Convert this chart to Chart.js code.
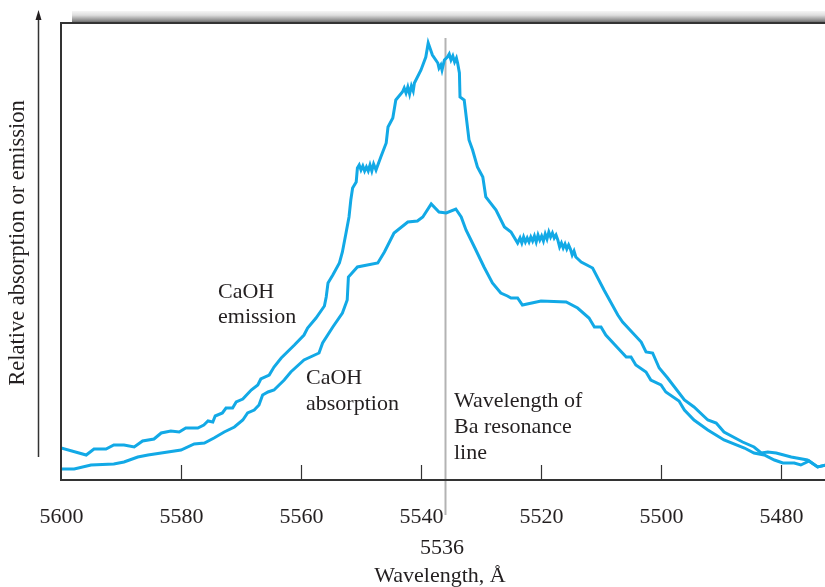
<!DOCTYPE html>
<html>
<head>
<meta charset="utf-8">
<script src="https://cdn.jsdelivr.net/npm/chart.js@4"></script>
<style>
  body { margin: 0; background: #fff; }
  canvas { display: block; }
</style>
</head>
<body>
<canvas id="grafico" width="825" height="587"></canvas>
<script>
// comprimentos de onda (Å) e níveis relativos
const emissionWavelength = [
  5600.0, 5595.8, 5594.5, 5592.5, 5591.2, 5589.5, 5587.8, 5586.4, 5584.5, 5583.3,
  5581.7, 5580.3, 5579.2, 5577.2, 5576.2, 5575.5, 5574.7, 5574.3, 5573.1, 5572.5,
  5571.4, 5570.8, 5569.7, 5568.3, 5567.2, 5566.7, 5565.3, 5564.5, 5563.3, 5561.1,
  5559.5, 5558.9, 5557.5, 5556.1, 5555.8, 5555.5, 5554.7, 5553.6, 5553.1, 5552.5,
  5552.0, 5551.7, 5551.4, 5550.8, 5550.6, 5550.3, 5550.0, 5549.7, 5549.4, 5549.1,
  5548.8, 5548.5, 5548.2, 5547.9, 5547.5, 5546.7, 5545.8, 5545.5, 5544.7, 5544.2,
  5543.1, 5542.8, 5542.5, 5542.2, 5541.9, 5541.6, 5541.3, 5541.1, 5540.0, 5539.2,
  5538.8, 5538.1, 5537.2, 5537.0, 5536.7, 5536.5, 5536.1, 5535.6, 5535.3, 5535.0,
  5534.7, 5534.4, 5534.1, 5533.9, 5533.6, 5533.5, 5532.8, 5532.0, 5531.4, 5530.6,
  5529.7, 5529.2, 5527.5, 5526.1, 5525.0, 5523.9, 5523.5, 5523.2, 5522.9, 5522.6,
  5522.3, 5522.0, 5521.7, 5521.4, 5521.1, 5520.8, 5520.5, 5520.2, 5519.9, 5519.6,
  5519.3, 5519.0, 5518.7, 5518.4, 5518.1, 5517.8, 5517.5, 5517.2, 5516.9, 5516.6,
  5516.3, 5516.0, 5515.7, 5515.4, 5515.1, 5514.8, 5514.5, 5514.2, 5513.3, 5511.4,
  5509.5, 5507.2, 5506.4, 5503.3, 5502.5, 5501.4, 5500.3, 5498.9, 5496.1, 5494.5,
  5492.2, 5490.8, 5489.5, 5486.4, 5484.5, 5483.3, 5482.2, 5480.8, 5478.3, 5475.6,
  5473.9, 5472.5
];
const emissionLevel = [
  3.2, 2.5, 3.1, 3.1, 3.5, 3.5, 3.3, 3.9, 4.1, 4.7,
  4.9, 4.8, 5.2, 5.2, 5.5, 5.9, 5.8, 6.4, 6.7, 7.2,
  7.2, 7.8, 8.1, 9.0, 9.5, 10.1, 10.5, 11.3, 12.2, 13.5,
  14.5, 15.2, 16.2, 17.4, 18.3, 19.7, 20.5, 21.7, 22.8, 24.7,
  26.3, 28.0, 29.2, 29.8, 31.2, 31.5, 31.0, 31.4, 30.9, 31.3,
  30.9, 31.5, 30.9, 31.6, 31.0, 32.3, 33.7, 35.3, 36.2, 38.0,
  38.8, 39.2, 38.7, 39.3, 38.6, 39.4, 38.9, 39.7, 41.0, 42.3,
  43.7, 42.5, 41.7, 41.2, 41.5, 41.0, 42.0, 42.3, 42.6, 42.0,
  42.4, 41.8, 42.2, 41.7, 40.7, 38.3, 38.0, 34.0, 33.0, 31.3,
  30.3, 28.3, 27.0, 25.3, 24.8, 23.7, 24.2, 23.7, 24.3, 23.8,
  24.2, 23.8, 24.3, 23.9, 24.4, 23.8, 24.5, 24.0, 24.4, 23.9,
  24.6, 24.1, 24.8, 24.3, 24.7, 24.2, 24.5, 24.0, 23.3, 23.7,
  23.2, 23.6, 23.1, 23.5, 23.1, 22.5, 22.9, 22.3, 21.8, 21.2,
  19.0, 16.5, 15.8, 13.8, 12.8, 12.7, 11.2, 10.2, 8.0, 7.3,
  6.0, 5.7, 4.8, 3.8, 3.3, 2.7, 2.8, 2.7, 2.3, 2.0,
  1.3, 1.5
];
const absorptionWavelength = [
  5600.0, 5597.8, 5595.0, 5591.2, 5589.5, 5587.2, 5585.5, 5583.3, 5580.0, 5577.8,
  5576.1, 5574.5, 5572.8, 5571.1, 5569.7, 5568.9, 5567.8, 5567.0, 5566.4, 5565.5,
  5564.5, 5562.8, 5561.7, 5559.5, 5557.0, 5556.4, 5554.7, 5553.1, 5552.3, 5552.1,
  5550.6, 5547.2, 5546.1, 5544.5, 5542.2, 5540.6, 5539.7, 5538.3, 5537.0, 5535.8,
  5534.2, 5533.3, 5532.5, 5531.1, 5529.5, 5528.1, 5526.7, 5525.6, 5525.0, 5523.9,
  5523.1, 5520.0, 5515.8, 5513.9, 5512.0, 5511.1, 5510.0, 5509.2, 5507.2, 5505.8,
  5505.0, 5504.2, 5502.5, 5501.7, 5500.0, 5499.2, 5497.0, 5496.1, 5494.5, 5492.2,
  5489.5, 5486.1, 5484.5, 5482.8, 5481.1, 5479.7, 5477.8, 5476.7, 5475.3, 5473.9,
  5472.5
];
const absorptionLevel = [
  1.1, 1.1, 1.5, 1.6, 1.8, 2.3, 2.5, 2.7, 3.0, 3.6,
  3.7, 4.2, 4.8, 5.3, 6.0, 6.7, 7.0, 7.5, 8.5, 8.8,
  9.0, 10.0, 10.8, 12.0, 12.7, 13.7, 15.3, 16.7, 18.0, 20.3,
  21.3, 21.7, 22.8, 24.7, 25.8, 25.9, 26.3, 27.6, 26.8, 26.7,
  27.1, 26.3, 25.0, 23.3, 21.3, 19.7, 18.7, 18.4, 18.2, 18.2,
  17.5, 17.9, 17.8, 17.2, 16.2, 15.3, 15.3, 14.5, 13.2, 12.3,
  12.3, 11.5, 10.8, 10.0, 9.5, 8.8, 7.9, 7.0, 6.0, 5.0,
  4.0, 3.2, 2.7, 2.5, 2.0, 1.7, 1.7, 1.5, 1.9, 1.3,
  1.5
];
const xTicks = [5600, 5580, 5560, 5540, 5520, 5500, 5480];
const baLine = 5536;

const toPoints = (xs, ys) => xs.map((x, i) => ({ x: x, y: ys[i] }));
const azul = '#12a9e6';
const serif = '"Liberation Serif", "DejaVu Serif", serif';
const texto = '#231f20';

// desenha moldura, eixos, marcas e textos
const decoracao = {
  id: 'decoracao',
  beforeDatasetsDraw(chart) {
    const { ctx, chartArea: a, scales: { x } } = chart;
    const px = Math.round(x.getPixelForValue(baLine)) + 0.5;
    ctx.save();
    ctx.strokeStyle = '#b3b3b3';
    ctx.lineWidth = 2;
    ctx.beginPath();
    ctx.moveTo(px, a.top + 15);
    ctx.lineTo(px, a.bottom + 35);
    ctx.stroke();
    ctx.restore();
  },
  afterDraw(chart) {
    const { ctx, chartArea: a, scales: { x } } = chart;
    ctx.save();

    // barra cinza no topo
    const g = ctx.createLinearGradient(0, a.top - 12, 0, a.top);
    g.addColorStop(0, '#f6f6f6');
    g.addColorStop(0.35, '#dedede');
    g.addColorStop(0.8, '#8a8a8a');
    g.addColorStop(1, '#5a5a5a');
    ctx.fillStyle = g;
    ctx.fillRect(a.left + 11, a.top - 12, a.right - a.left - 11, 12);

    // moldura
    ctx.strokeStyle = '#333';
    ctx.lineWidth = 2;
    ctx.beginPath();
    ctx.moveTo(a.right, a.top);
    ctx.lineTo(a.left, a.top);
    ctx.lineTo(a.left, a.bottom);
    ctx.lineTo(a.right, a.bottom);
    ctx.stroke();

    // marcas internas
    ctx.lineWidth = 1.2;
    ctx.fillStyle = texto;
    ctx.font = '22px ' + serif;
    ctx.textAlign = 'center';
    ctx.textBaseline = 'alphabetic';
    xTicks.forEach(t => {
      const px = Math.round(x.getPixelForValue(t)) + 0.5;
      if (t !== 5600) {
        ctx.beginPath();
        ctx.moveTo(px, a.bottom);
        ctx.lineTo(px, a.bottom - 15);
        ctx.stroke();
      }
      ctx.fillText(String(t), px, a.bottom + 43);
    });
    ctx.fillText(String(baLine), x.getPixelForValue(baLine) - 3, a.bottom + 74);
    ctx.fillText('Wavelength, Å', x.getPixelForValue(baLine) - 5, a.bottom + 102);

    // seta do eixo y
    ctx.lineWidth = 1.5;
    ctx.beginPath();
    ctx.moveTo(38.5, a.bottom - 23);
    ctx.lineTo(38.5, 16);
    ctx.stroke();
    ctx.beginPath();
    ctx.moveTo(38.5, 10);
    ctx.lineTo(35.5, 20);
    ctx.lineTo(41.5, 20);
    ctx.closePath();
    ctx.fill();

    // título do eixo y
    ctx.save();
    ctx.translate(24, 243);
    ctx.rotate(-Math.PI / 2);
    ctx.font = '22.5px ' + serif;
    ctx.fillText('Relative absorption or emission', 0, 0);
    ctx.restore();

    // rótulos das curvas
    ctx.textAlign = 'left';
    ctx.fillText('CaOH', 218, 298);
    ctx.fillText('emission', 218, 323);
    ctx.fillText('CaOH', 306, 384);
    ctx.fillText('absorption', 306, 410);
    ctx.fillText('Wavelength of', 454, 407);
    ctx.fillText('Ba resonance', 454, 433);
    ctx.fillText('line', 454, 459);

    ctx.restore();
  }
};

const ctx = document.getElementById('grafico').getContext('2d');

new Chart(ctx, {
  type: 'line',
  data: {
    datasets: [
      {
        label: 'CaOH emission',
        data: toPoints(emissionWavelength, emissionLevel),
        borderColor: azul,
        borderWidth: 3,
        pointRadius: 0,
        tension: 0
      },
      {
        label: 'CaOH absorption',
        data: toPoints(absorptionWavelength, absorptionLevel),
        borderColor: azul,
        borderWidth: 3,
        pointRadius: 0,
        tension: 0
      }
    ]
  },
  options: {
    responsive: false,
    animation: false,
    devicePixelRatio: 1,
    layout: { padding: { left: 61, right: 0, top: 23, bottom: 107 } },
    plugins: { legend: { display: false }, tooltip: { enabled: false } },
    scales: {
      x: { type: 'linear', reverse: true, min: 5472.67, max: 5600, display: false },
      y: { min: 0, max: 45.7, display: false }
    }
  },
  plugins: [decoracao]
});
</script>
</body>
</html>
